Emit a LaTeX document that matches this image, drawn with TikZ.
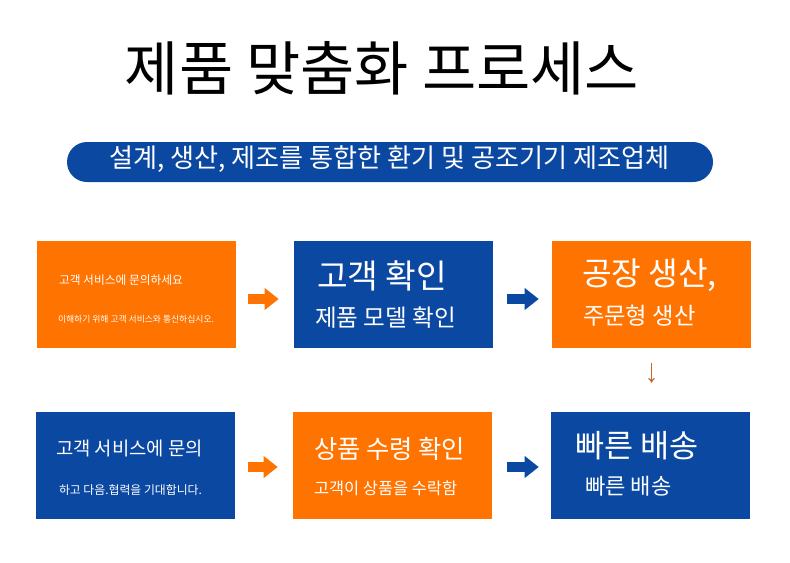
\documentclass[tikz,border=0pt]{standalone}
\usepackage{fontspec}
\setmainfont{Noto Sans CJK KR}
\usetikzlibrary{calc,arrows.meta}
\definecolor{brandorange}{HTML}{FF7300}
\definecolor{brandblue}{HTML}{0B48A2}
\definecolor{downarrow}{HTML}{C2662A}
\newcommand\fsz[1]{\fontsize{#1}{#1}\selectfont}
\tikzset{
  box/.style={rectangle, inner sep=0pt, minimum width=149.25pt, minimum height=80.25pt},
  obox/.style={box, fill=brandorange},
  bbox/.style={box, fill=brandblue},
  txt/.style={anchor=west, inner sep=0pt, text=white},
  blockarrow/.style={line width=7.5pt, -{Triangle[length=10.5pt, width=15.75pt]}},
  oarrow/.style={blockarrow, draw=brandorange},
  barrow/.style={blockarrow, draw=brandblue},
}
\begin{document}
\begin{tikzpicture}[x=0.75pt, y=-0.75pt]
\useasboundingbox (0,0) rectangle (790,562);
\fill[white] (0,0) rectangle (790,562);

% title
\node[inner sep=0pt] (title) at (382,68) {\fsz{44.2}제품 맞춤화 프로세스};

% banner
\node[fill=brandblue, rounded corners=15pt, minimum width=484.5pt, minimum height=30pt, inner sep=0pt] (banner) at (390,162) {};
\node[inner sep=0pt, text=white] (bannertext) at (389.5,159) {\fsz{19.6}설계, 생산, 제조를 통합한 환기 및 공조기기 제조업체};

% boxes
\node[obox] (b1) at (136.5,294.5) {};
\node[bbox] (b2) at (393.5,294.5) {};
\node[obox] (b3) at (651.5,294.5) {};
\node[bbox] (b4) at (135.5,465.5) {};
\node[obox] (b5) at (392.5,465.5) {};
\node[bbox] (b6) at (650.5,465.5) {};

% texts
\node[txt] (t1a) at ($(b1.north west)+(22,39)$) {\fsz{8.8}고객 서비스에 문의하세요};
\node[txt] (t1b) at ($(b1.north west)+(21,78.5)$) {\fsz{6.6}이해하기 위해 고객 서비스와 통신하십시오.};
\node[txt] (t2a) at ($(b2.north west)+(23,35.5)$) {\fsz{25}고객 확인};
\node[txt] (t2b) at ($(b2.north west)+(21,76.5)$) {\fsz{17.7}제품 모델 확인};
\node[txt] (t3a) at ($(b3.north west)+(30,34)$) {\fsz{24.2}공장 생산,};
\node[txt] (t3b) at ($(b3.north west)+(31,74.5)$) {\fsz{17.5}주문형 생산};
\node[txt] (t4a) at ($(b4.north west)+(20,37)$) {\fsz{14.1}고객 서비스에 문의};
\node[txt] (t4b) at ($(b4.north west)+(23,78)$) {\fsz{8.9}하고 다음.협력을 기대합니다.};
\node[txt] (t5a) at ($(b5.north west)+(21,37)$) {\fsz{19}상품 수령 확인};
\node[txt] (t5b) at ($(b5.north west)+(21,77)$) {\fsz{12.3}고객이 상품을 수락함};
\node[txt] (t6a) at ($(b6.north west)+(24,34)$) {\fsz{23.7}빠른 배송};
\node[txt] (t6b) at ($(b6.north west)+(34,74.5)$) {\fsz{16.6}빠른 배송};

% arrows
\draw[oarrow, shorten <=9pt, shorten >=11.25pt] ($(b1.east)+(0,4.5)$) -- ($(b2.west)+(0,4.5)$);
\draw[barrow, shorten <=10.5pt, shorten >=9.75pt] ($(b2.east)+(0,4.5)$) -- ($(b3.west)+(0,4.5)$);
\draw[oarrow, shorten <=9.75pt, shorten >=11.25pt] ($(b4.east)+(0,1.5)$) -- ($(b5.west)+(0,1.5)$);
\draw[barrow, shorten <=11.25pt, shorten >=9pt] ($(b5.east)+(0,1.5)$) -- ($(b6.west)+(0,1.5)$);
\draw[downarrow, line width=0.9pt, -{To[length=3.5pt, width=5pt]}, shorten <=11.25pt, shorten >=21.75pt] (b3.south) -- (b3.south |- b6.north);
\end{tikzpicture}
\end{document}
